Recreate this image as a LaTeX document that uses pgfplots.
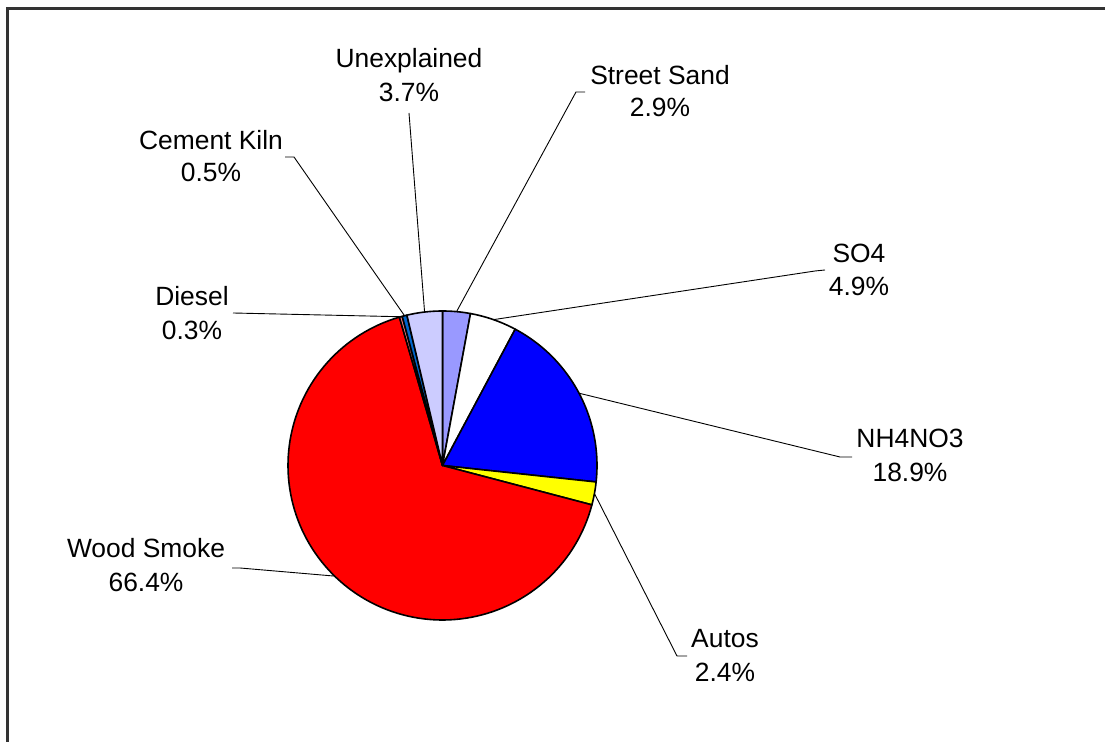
\documentclass[border=0pt]{standalone}
\usepackage{pgfplots}
\pgfplotsset{compat=1.18}
\usepackage{fontspec}
\setmainfont{Liberation Sans}
\definecolor{sand}{HTML}{9999FF}
\definecolor{nh}{HTML}{0000FF}
\definecolor{autos}{HTML}{FFFF00}
\definecolor{wood}{HTML}{FF0000}
\definecolor{diesel}{HTML}{FF8080}
\definecolor{cement}{HTML}{0066CC}
\definecolor{unexpl}{HTML}{CCCCFF}
\definecolor{frame}{HTML}{333333}
% shares in percent, clockwise from 12 o'clock
\def\pSand{2.9}\def\pSO{4.9}\def\pNH{18.9}\def\pAutos{2.4}
\def\pWood{66.4}\def\pDiesel{0.3}\def\pCement{0.5}\def\pUnexpl{3.7}
\pgfmathsetmacro\aA{90}
\pgfmathsetmacro\aB{\aA-3.6*\pSand}
\pgfmathsetmacro\aC{\aB-3.6*\pSO}
\pgfmathsetmacro\aD{\aC-3.6*\pNH}
\pgfmathsetmacro\aE{\aD-3.6*\pAutos}
\pgfmathsetmacro\aF{\aE-3.6*\pWood}
\pgfmathsetmacro\aG{\aF-3.6*\pDiesel}
\pgfmathsetmacro\aH{\aG-3.6*\pCement}
\pgfmathsetmacro\aI{\aH-3.6*\pUnexpl}
\def\cx{442.5}\def\cy{465.5}\def\rr{154.5}
\newcommand\slice[3]{% start end color
  \addplot[fill=#3, draw=black, line width=0.8pt, line join=round, domain=#2:#1, samples=120, variable=\t]
    ({\cx+\rr*cos(t)}, {\cy-\rr*sin(t)}) -- (axis cs:\cx,\cy) -- cycle;}
\newcommand\lab[5]{% x, baseline1, name, baseline2, pct
  \node[anchor=base, inner sep=0pt, font=\fontsize{13.2pt}{15pt}\selectfont] at (axis cs:#1,#2) {#3};
  \node[anchor=base, inner sep=0pt, font=\fontsize{13.2pt}{15pt}\selectfont] at (axis cs:#1,#4) {#5};}
\begin{document}
\begin{tikzpicture}
\begin{axis}[
  at={(0,0)}, anchor=south west,
  scale only axis, width=552.5pt, height=371pt,
  xmin=0, xmax=1105, ymin=0, ymax=742, y dir=reverse,
  hide axis, clip=false]
% frame
\draw[frame, line width=1.1pt] (axis cs:7.5,743) -- (axis cs:7.5,8.5) -- (axis cs:1106,8.5);
% slices
\slice{\aA}{\aB}{sand}
\slice{\aB}{\aC}{white}
\slice{\aC}{\aD}{nh}
\slice{\aD}{\aE}{autos}
\slice{\aE}{\aF}{wood}
\slice{\aF}{\aG}{diesel}
\slice{\aG}{\aH}{cement}
\slice{\aH}{\aI}{unexpl}
% leader lines
\pgfmathsetmacro\mA{(\aA+\aB)/2}
\pgfmathsetmacro\mB{(\aB+\aC)/2}
\pgfmathsetmacro\mC{(\aC+\aD)/2}
\pgfmathsetmacro\mD{(\aD+\aE)/2}
\pgfmathsetmacro\mE{(\aE+\aF)/2}
\pgfmathsetmacro\mF{(\aF+\aG)/2}
\pgfmathsetmacro\mG{(\aG+\aH)/2}
\pgfmathsetmacro\mH{(\aH+\aI)/2}
\begin{scope}[line width=0.45pt]
\draw (axis cs:{\cx+\rr*cos(\mA)},{\cy-\rr*sin(\mA)}) -- (axis cs:576,92) -- (axis cs:585,92);
\draw (axis cs:{\cx+\rr*cos(\mB)},{\cy-\rr*sin(\mB)}) -- (axis cs:815,271) -- (axis cs:825,270);
\draw (axis cs:{\cx+\rr*cos(\mC)},{\cy-\rr*sin(\mC)}) -- (axis cs:840,457) -- (axis cs:852,457);
\draw (axis cs:{\cx+\rr*cos(\mD)},{\cy-\rr*sin(\mD)}) -- (axis cs:677,656) -- (axis cs:687,656);
\draw (axis cs:{\cx+\rr*cos(\mE)},{\cy-\rr*sin(\mE)}) -- (axis cs:240,568) -- (axis cs:232,568);
\draw (axis cs:{\cx+\rr*cos(\mF)},{\cy-\rr*sin(\mF)}) -- (axis cs:233,313);
\draw (axis cs:{\cx+\rr*cos(\mG)},{\cy-\rr*sin(\mG)}) -- (axis cs:294,157) -- (axis cs:285,157);
\draw (axis cs:{\cx+\rr*cos(\mH)},{\cy-\rr*sin(\mH)}) -- (axis cs:409,113);
\end{scope}
% labels
\lab{660}{85}{Street Sand}{117}{2.9\%}
\lab{859}{263}{SO4}{296}{4.9\%}
\lab{910}{448}{NH4NO3}{482}{18.9\%}
\lab{725}{648}{Autos}{682}{2.4\%}
\lab{146}{558}{Wood Smoke}{592}{66.4\%}
\lab{192}{306}{Diesel}{340}{0.3\%}
\lab{211}{150}{Cement Kiln}{182}{0.5\%}
\lab{409}{68}{Unexplained}{102}{3.7\%}
\end{axis}
\pgfresetboundingbox
\path[use as bounding box] (0,0) rectangle (552.5pt,371pt);
\end{tikzpicture}
\end{document}
